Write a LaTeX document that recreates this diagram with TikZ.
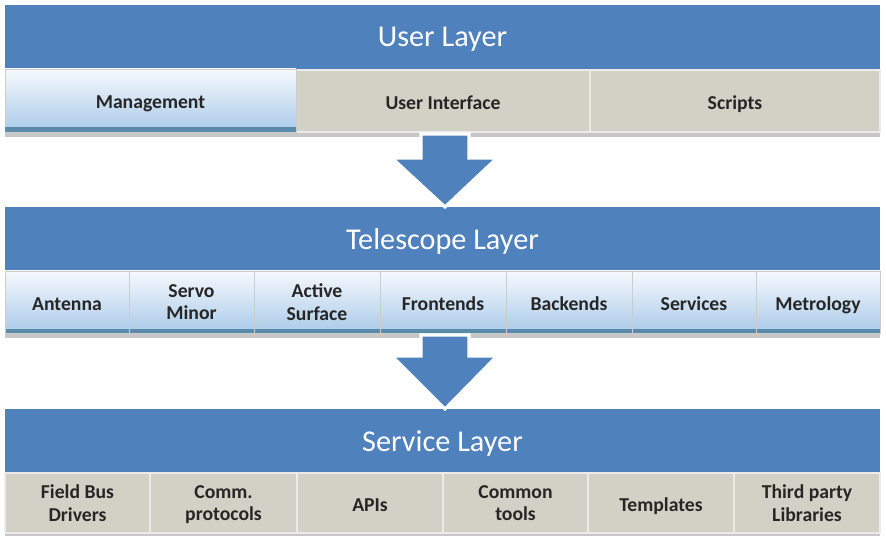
\documentclass[tikz,border=0pt]{standalone}
\usepackage{fontspec}
\setmainfont{Carlito}
\definecolor{layerblue}{HTML}{4F81BD}
\definecolor{tilegrey}{HTML}{D2D1C5}
\definecolor{tiletop}{HTML}{F6F9FD}
\definecolor{tilebot}{HTML}{A9CAE9}
\definecolor{tileedge}{HTML}{5A8BAA}
\tikzset{
	layertext/.style={text=white,font=\fontsize{21.5}{24}\selectfont,yshift=-1.5pt},
	boxtext/.style={text=black!85,font=\bfseries\fontsize{14}{16}\selectfont,align=center,
		execute at begin node=\strut,execute at end node=\strut,yshift=-2.5pt},
	greytile/.style={fill=tilegrey,draw=white!92!black,line width=1.2pt},
	bluetile/.style={top color=tiletop,bottom color=tilebot,draw=white!80!black,line width=0.6pt},
	rowshadow/.style={fill=black!22},
	bigarrow/.style={fill=layerblue,draw=white,line width=2.2pt,line join=miter}
}
\begin{document}
\begin{tikzpicture}[x=0.025cm,y=-0.025cm]
\useasboundingbox (0,0) rectangle (886,536);

% layer bars
\fill[layerblue] (5,5) rectangle (880,70) node [pos=0.5,layertext] (user) {User Layer};
\fill[layerblue] (5,207) rectangle (880,271) node [pos=0.5,layertext] (tele) {Telescope Layer};
\fill[layerblue] (5,409) rectangle (880,473) node [pos=0.5,layertext] (serv) {Service Layer};

% shadows under the rows
\fill[rowshadow] (5,132) rectangle (880,137);
\fill[rowshadow] (5,333) rectangle (880,338);
\fill[rowshadow] (5,533) rectangle (880,536);

% user layer row
\draw[greytile] (296,70) rectangle (590,132) node [pos=0.5,boxtext] (ui) {User Interface};
\draw[greytile] (590,70) rectangle (880,132) node [pos=0.5,boxtext] (scr) {Scripts};
\draw[bluetile] (5,69) rectangle (296,132) node [pos=0.5,boxtext] (mgmt) {Management};
\fill[tileedge] (5,127) rectangle (296,132);

% telescope layer row
\foreach \xa/\xb/\lbl [count=\i] in {5/129/Antenna, 129/254/{Servo\\Minor}, 254/380/{Active\\Surface}, 380/506/Frontends, 506/632/Backends, 632/756/Services, 756/880/Metrology}
{
	\draw[bluetile] (\xa,271) rectangle (\xb,333) node [pos=0.5,boxtext] (t\i) {\lbl};
	\fill[tileedge] (\xa+0.5,329) rectangle (\xb-0.5,333);
}

% service layer row
\foreach \xa/\xb/\lbl [count=\i] in {5/150/{Field Bus\\Drivers}, 150/297/{Comm.\\protocols}, 297/443/APIs, 443/588/{Common\\tools}, 588/734/Templates, 734/880/{Third party\\Libraries}}
{
	\draw[greytile] (\xa,473) rectangle (\xb,533) node [pos=0.5,boxtext] (s\i) {\lbl};
}

% block arrows between the layers
\foreach \ya/\yb/\yc in {134/158/207, 335/356/409}
{
	\draw[bigarrow] (421,\ya) -- (469,\ya) -- (469,\yb) -- (497,\yb) -- (445,\yc) -- (392,\yb) -- (421,\yb) -- cycle;
}
\end{tikzpicture}
\end{document}
